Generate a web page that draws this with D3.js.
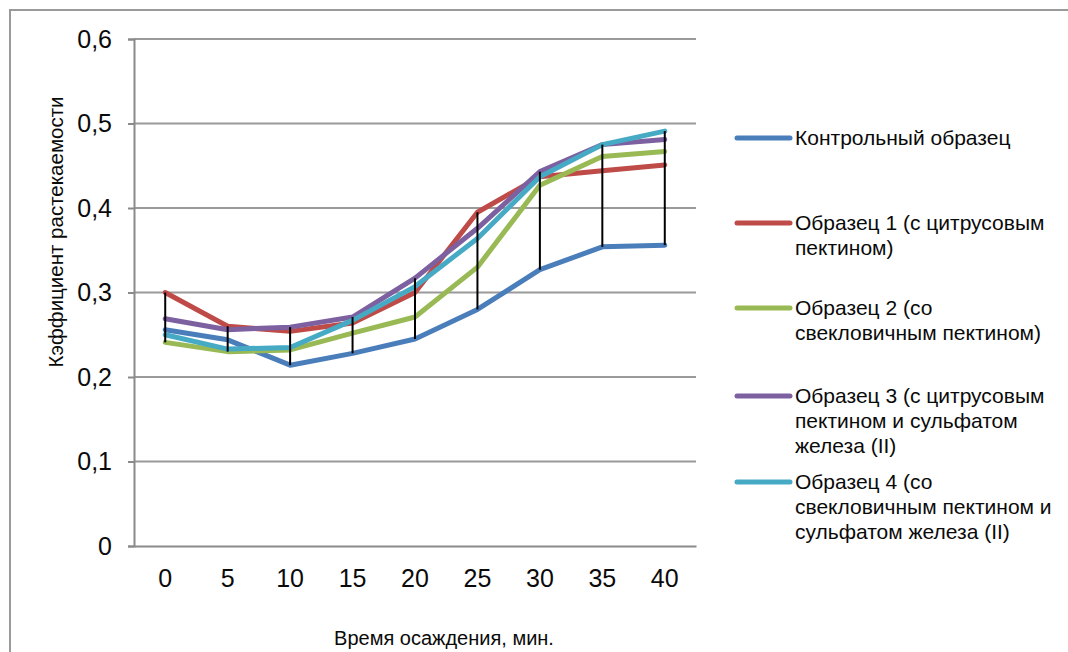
<!DOCTYPE html>
<html>
<head>
<meta charset="utf-8">
<script src="https://cdn.jsdelivr.net/npm/d3@7/dist/d3.min.js"></script>
<style>
  html, body { margin: 0; padding: 0; background: #fff; }
  svg { display: block; font-family: "Liberation Sans", Arial, sans-serif; }
</style>
</head>
<body>
<svg id="chart" width="1068" height="652"></svg>
<script>
// Settling time, minutes
const times = ["0", "5", "10", "15", "20", "25", "30", "35", "40"];

// Spreading coefficient per sample
const control  = [0.256, 0.244, 0.214, 0.228, 0.245, 0.280, 0.327, 0.354, 0.356];
const sample1  = [0.300, 0.260, 0.254, 0.264, 0.300, 0.395, 0.437, 0.444, 0.451];
const sample2  = [0.241, 0.230, 0.232, 0.252, 0.271, 0.330, 0.427, 0.461, 0.467];
const sample3  = [0.269, 0.256, 0.259, 0.271, 0.317, 0.376, 0.443, 0.475, 0.481];
const sample4  = [0.250, 0.233, 0.235, 0.267, 0.307, 0.364, 0.437, 0.475, 0.491];

const seriesNames = [
  ["Контрольный образец"],
  ["Образец 1 (с цитрусовым", "пектином)"],
  ["Образец 2 (со", "свекловичным пектином)"],
  ["Образец 3 (с цитрусовым", "пектином и сульфатом", "железа (II)"],
  ["Образец 4 (со", "свекловичным пектином и", "сульфатом железа (II)"]
];
const seriesColors = ["#4A7EBB", "#BE4B48", "#98B954", "#7D60A0", "#46AAC5"];
const yTicks = [0, 0.1, 0.2, 0.3, 0.4, 0.5, 0.6];

const series = [control, sample1, sample2, sample3, sample4].map((v, i) => ({
  name: seriesNames[i], color: seriesColors[i], values: v
}));

const svg = d3.select("#chart");

// outer chart frame
svg.append("rect")
  .attr("x", 10).attr("y", 10)
  .attr("width", 1100).attr("height", 700)
  .attr("fill", "none").attr("stroke", "#9a9a9a").attr("stroke-width", 2);

const plot = { left: 134, right: 696, top: 39, bottom: 546 };

const x = d3.scaleBand().domain(times).range([plot.left, plot.right]);
const y = d3.scaleLinear().domain([0, 0.6]).range([plot.bottom, plot.top]);
const cx = t => x(t) + x.bandwidth() / 2;

// horizontal gridlines
svg.append("g")
  .selectAll("line").data(yTicks.filter(d => d > 0)).join("line")
  .attr("x1", plot.left).attr("x2", plot.right)
  .attr("y1", d => y(d)).attr("y2", d => y(d))
  .attr("stroke", "#9a9a9a").attr("stroke-width", 2);

// y axis
const yAxis = svg.append("g")
  .attr("transform", `translate(${plot.left},0)`)
  .call(d3.axisLeft(y).tickValues(yTicks).tickSize(6).tickPadding(16)
    .tickFormat(d => d3.format(".1~f")(d).replace(".", ",")));
yAxis.select(".domain").attr("stroke", "#8a8a8a").attr("stroke-width", 2);
yAxis.selectAll(".tick line").attr("stroke", "#8a8a8a").attr("stroke-width", 2);
yAxis.selectAll(".tick text").attr("font-size", 25).attr("fill", "#0a0a0a")
  .attr("font-family", "Liberation Sans, Arial, sans-serif");

// x axis
const xAxis = svg.append("g")
  .attr("transform", `translate(0,${plot.bottom})`)
  .call(d3.axisBottom(x).tickSize(0).tickPadding(23));
xAxis.select(".domain").attr("stroke", "#8a8a8a").attr("stroke-width", 2);
xAxis.selectAll(".tick text").attr("font-size", 25).attr("fill", "#0a0a0a")
  .attr("font-family", "Liberation Sans, Arial, sans-serif");

// axis titles
svg.append("text")
  .attr("x", 444).attr("y", 645)
  .attr("text-anchor", "middle")
  .attr("font-size", 20).attr("fill", "#0a0a0a")
  .text("Время осаждения, мин.");

svg.append("text")
  .attr("transform", `translate(63,232) rotate(-90)`)
  .attr("text-anchor", "middle")
  .attr("font-size", 20.5).attr("fill", "#0a0a0a")
  .text("Кэффициент растекаемости");

// series lines
const line = d3.line()
  .x((d, i) => cx(times[i]))
  .y(d => y(d));

svg.append("g")
  .selectAll("path").data(series).join("path")
  .attr("d", d => line(d.values))
  .attr("fill", "none")
  .attr("stroke", d => d.color)
  .attr("stroke-width", 5)
  .attr("stroke-linejoin", "round")
  .attr("stroke-linecap", "round");

// high-low lines across all series
const hiLo = times.map((t, i) => {
  const vals = series.map(s => s.values[i]);
  return { t, hi: d3.max(vals), lo: d3.min(vals) };
});
svg.append("g")
  .selectAll("line").data(hiLo).join("line")
  .attr("x1", d => cx(d.t)).attr("x2", d => cx(d.t))
  .attr("y1", d => y(d.hi)).attr("y2", d => y(d.lo))
  .attr("stroke", "#000").attr("stroke-width", 2);

// legend
const legendTops = [138, 223, 308, 396, 482];
const legend = svg.append("g");
series.forEach((s, i) => {
  const g = legend.append("g").attr("transform", `translate(0,${legendTops[i]})`);
  g.append("line")
    .attr("x1", 737).attr("x2", 790).attr("y1", 0).attr("y2", 0)
    .attr("stroke", s.color).attr("stroke-width", 5).attr("stroke-linecap", "round");
  const txt = g.append("text").attr("x", 795).attr("y", 0)
    .attr("font-size", 21).attr("fill", "#0a0a0a");
  s.name.forEach((ln, j) => {
    txt.append("tspan").attr("x", 795).attr("dy", j === 0 ? "0.35em" : 25).text(ln);
  });
});
</script>
</body>
</html>
